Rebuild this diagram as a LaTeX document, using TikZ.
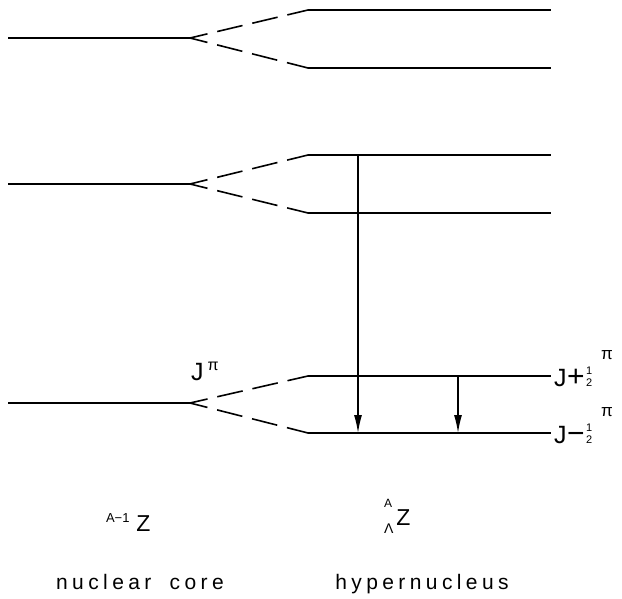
\documentclass[tikz,border=0pt]{standalone}
\usepackage{fontspec}
\setmainfont{Liberation Sans}
\usetikzlibrary{arrows.meta}
\newcommand{\halfstk}{{\fontsize{11}{11}\selectfont\shortstack{1\\[1pt]2}}}
\begin{document}
\begin{tikzpicture}[x=1pt,y=-1pt,
  level/.style={line width=1.6pt},
  split/.style={line width=1.6pt,dash pattern=on 18pt off 10pt on 26pt off 10pt on 26pt off 10pt on 40pt},
  trans/.style={line width=1.4pt,-{Latex[length=18pt,width=8pt]}},
  lbl/.style={inner sep=0pt,outer sep=0pt,font=\fontsize{23}{25}\selectfont},
  jlbl/.style={inner sep=0pt,outer sep=0pt,font=\fontsize{25}{27}\selectfont},
  caption/.style={inner sep=0pt,outer sep=0pt,font=\fontsize{21}{24}\selectfont\addfontfeatures{LetterSpace=21}},
]
\useasboundingbox (0,0) rectangle (622,599);
% core levels
\coordinate (c1s) at (8,38);   \coordinate (c1e) at (190,38);
\coordinate (c2s) at (8,184);  \coordinate (c2e) at (190,184);
\coordinate (c3s) at (8,403);  \coordinate (c3e) at (190,403);
% hypernucleus levels
\coordinate (h1u) at (308,10);  \coordinate (h1ue) at (551,10);
\coordinate (h1d) at (308,68);  \coordinate (h1de) at (551,68);
\coordinate (h2u) at (308,155); \coordinate (h2ue) at (551,155);
\coordinate (h2d) at (308,213); \coordinate (h2de) at (551,213);
\coordinate (h3u) at (308,376); \coordinate (h3ue) at (551,376);
\coordinate (h3d) at (308,433); \coordinate (h3de) at (551,433);
% transitions
\coordinate (t1s) at (358,155); \coordinate (t1e) at (358,433);
\coordinate (t2s) at (458,376); \coordinate (t2e) at (458,433);

\draw[level] (c1s) -- (c1e);
\draw[level] (c2s) -- (c2e);
\draw[level] (c3s) -- (c3e);
\draw[level] (h1u) -- (h1ue);
\draw[level] (h1d) -- (h1de);
\draw[level] (h2u) -- (h2ue);
\draw[level] (h2d) -- (h2de);
\draw[level] (h3u) -- (h3ue);
\draw[level] (h3d) -- (h3de);
\draw[split] (c1e) -- (h1u);
\draw[split] (c1e) -- (h1d);
\draw[split] (c2e) -- (h2u);
\draw[split] (c2e) -- (h2d);
\draw[split] (c3e) -- (h3u);
\draw[split] (c3e) -- (h3d);
\draw[trans] (t1s) -- (t1e);
\draw[trans] (t2s) -- (t2e);

% labels
\node[jlbl,anchor=base west] (jpi) at (191,380) {J\hspace{4pt}\raisebox{10pt}{\fontsize{16}{16}\selectfont π}};
\node[jlbl,anchor=base west] (jplus) at (554,386) {\makebox[12pt][l]{J}\makebox[20pt][c]{\fontsize{30}{30}\selectfont +}\makebox[15pt][l]{\halfstk}\raisebox{27pt}{\fontsize{17}{17}\selectfont π}};
\node[jlbl,anchor=base west] (jminus) at (554,443) {\makebox[12pt][l]{J}\makebox[20pt][c]{\fontsize{30}{30}\selectfont −}\makebox[15pt][l]{\halfstk}\raisebox{27pt}{\fontsize{17}{17}\selectfont π}};
\node[lbl,anchor=base west] (corez) at (106,531) {\raisebox{9pt}{\fontsize{13}{13}\selectfont A−1}\hspace{7pt}Z};
\node[lbl,anchor=base west] (hypz) at (384,525) {\makebox[0pt][l]{\raisebox{18pt}{\fontsize{12}{12}\selectfont A}}\raisebox{-8pt}{\fontsize{14}{14}\selectfont Λ}\hspace{3pt}Z};
\node[caption,anchor=base] (core) at (140,589) {nuclear\hspace{8pt} core};
\node[caption,anchor=base] (hyper) at (422,589) {hypernucleus};
\end{tikzpicture}
\end{document}
